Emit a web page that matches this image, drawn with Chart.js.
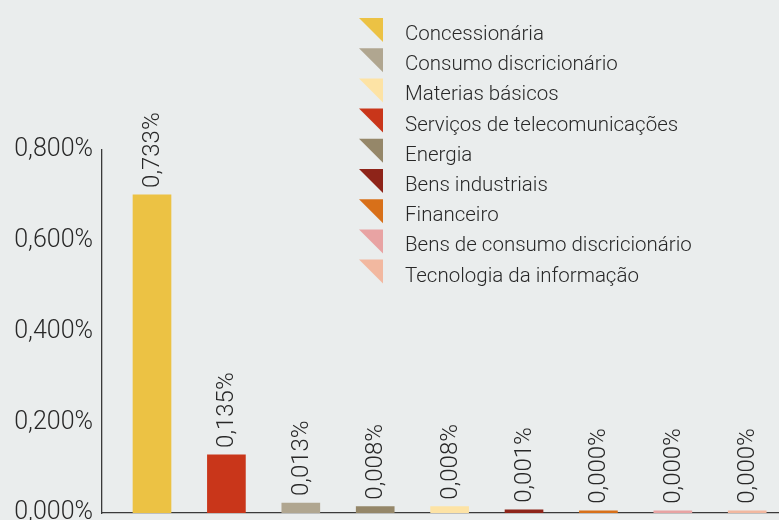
<!DOCTYPE html>
<html>
<head>
<meta charset="utf-8">
<script src="https://cdn.jsdelivr.net/npm/chart.js@4"></script>
<style>
  body { margin: 0; background: #eaeded; }
  #wrap { width: 779px; height: 520px; }
</style>
</head>
<body>
<div id="wrap"><canvas id="chart" width="779" height="520"></canvas></div>
<script>
// Legend order (sector names and colours)
const sectors = [
  "Concessionária",
  "Consumo discricionário",
  "Materias básicos",
  "Serviços de telecomunicações",
  "Energia",
  "Bens industriais",
  "Financeiro",
  "Bens de consumo discricionário",
  "Tecnologia da informação"
];
const sectorColors = [
  "#ecc244", "#b0a690", "#fde3a5", "#c9361a", "#958769",
  "#8e2419", "#d87019", "#e8a3a3", "#f2b8a0"
];

// Bar order, bar heights (in %) and the printed values
const barSectors = [
  "Concessionária",
  "Serviços de telecomunicações",
  "Consumo discricionário",
  "Energia",
  "Materias básicos",
  "Bens industriais",
  "Financeiro",
  "Bens de consumo discricionário",
  "Tecnologia da informação"
];
const barHeights = [0.701, 0.128, 0.022, 0.014, 0.014, 0.007, 0.005, 0.005, 0.005];
const barLabels = ["0,733%", "0,135%", "0,013%", "0,008%", "0,008%", "0,001%", "0,000%", "0,000%", "0,000%"];

// Y axis ticks
const yTicks = [0, 0.2, 0.4, 0.6, 0.8];

const textColor = "#282828";
const fontFamily = "Roboto, 'Liberation Sans', Arial, sans-serif";

const barColors = barSectors.map((s) => sectorColors[sectors.indexOf(s)]);

// Rotated value labels above each bar
const valueLabels = {
  id: "valueLabels",
  afterDatasetsDraw(chart) {
    const ctx = chart.ctx;
    const meta = chart.getDatasetMeta(0);
    ctx.save();
    ctx.fillStyle = textColor;
    ctx.font = "300 24px " + fontFamily;
    ctx.textAlign = "left";
    ctx.textBaseline = "middle";
    meta.data.forEach((bar, i) => {
      ctx.save();
      ctx.translate(bar.x + 1, bar.y - 7);
      ctx.rotate(-Math.PI / 2);
      ctx.fillText(barLabels[i], 0, 0);
      ctx.restore();
    });
    ctx.restore();
  }
};

// Legend with right-triangle markers
const triangleLegend = {
  id: "triangleLegend",
  afterDraw(chart) {
    const ctx = chart.ctx;
    ctx.save();
    ctx.font = "300 20.5px " + fontFamily;
    ctx.textBaseline = "alphabetic";
    ctx.textAlign = "left";
    sectors.forEach((name, i) => {
      const top = 18 + i * 30.2;
      ctx.fillStyle = sectorColors[i];
      ctx.beginPath();
      ctx.moveTo(359, top);
      ctx.lineTo(383, top);
      ctx.lineTo(383, top + 24);
      ctx.closePath();
      ctx.fill();
      ctx.fillStyle = textColor;
      ctx.fillText(name, 405, top + 22);
    });
    ctx.restore();
  }
};

new Chart(document.getElementById("chart"), {
  type: "bar",
  data: {
    datasets: [{
      data: barHeights.map((h, i) => ({ x: i, y: h })),
      backgroundColor: barColors,
      barThickness: 38
    }]
  },
  options: {
    responsive: false,
    animation: false,
    layout: { padding: { top: 150, right: 0, bottom: 0, left: 0 } },
    plugins: { legend: { display: false }, tooltip: { enabled: false } },
    scales: {
      x: {
        type: "linear",
        offset: false,
        min: -0.672,
        max: 8.427,
        grid: { display: false, drawTicks: false },
        ticks: { display: false },
        border: { display: true, color: "#3a3a3a", width: 1.3 },
        afterFit(scale) { scale.height = 7; }
      },
      y: {
        min: 0,
        max: 0.8,
        grid: { display: false, drawTicks: false },
        border: { display: true, color: "#3a3a3a", width: 1.3 },
        afterBuildTicks(scale) { scale.ticks = yTicks.map((v) => ({ value: v })); },
        ticks: {
          padding: 9,
          color: textColor,
          font: { family: fontFamily, size: 25, weight: 300 },
          callback: (v) => v.toFixed(3).replace(".", ",") + "%"
        },
        afterFit(scale) {
          scale.width = 102;
          scale.paddingTop = 0;
          scale.paddingBottom = 0;
        }
      }
    }
  },
  plugins: [valueLabels, triangleLegend]
});
</script>
</body>
</html>
